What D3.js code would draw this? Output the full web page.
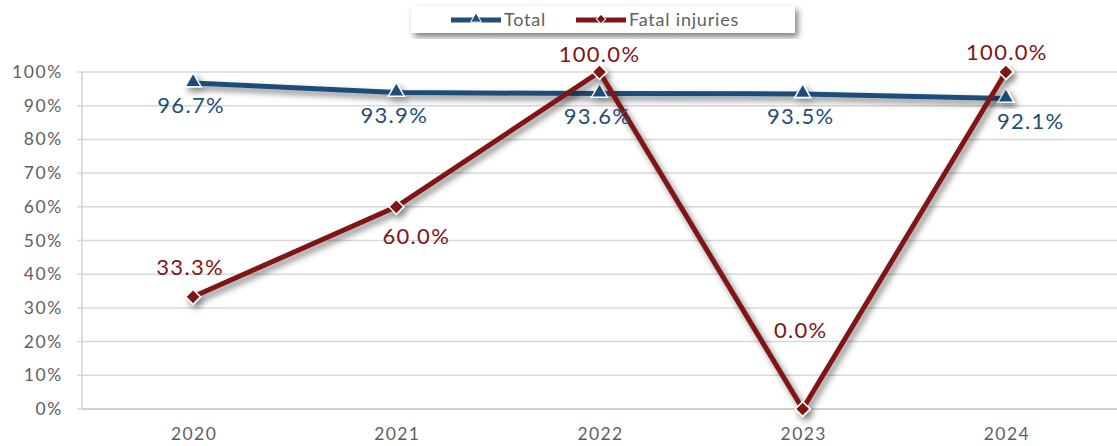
<!DOCTYPE html>
<html>
<head>
<meta charset="utf-8">
<script src="https://cdn.jsdelivr.net/npm/d3@7"></script>
<style>
  body { margin: 0; background: #fff; }
  text { font-family: Lato, "Open Sans", sans-serif; }
</style>
</head>
<body>
<script>
var years = ["2020", "2021", "2022", "2023", "2024"];
var total = [96.7, 93.9, 93.6, 93.5, 92.1];
var fatal = [33.3, 60.0, 100.0, 0.0, 100.0];
var yTicks = [0, 10, 20, 30, 40, 50, 60, 70, 80, 90, 100];

var width = 1117, height = 446;
var blue = "#1f4e79", red = "#7f1416", grey = "#5f5f5f";

var svg = d3.select("body").append("svg")
    .attr("width", width)
    .attr("height", height);

// drop shadow used by lines, markers and legend box
var defs = svg.append("defs");
var f = defs.append("filter").attr("id", "shadow")
    .attr("x", "-20%").attr("y", "-20%").attr("width", "140%").attr("height", "140%");
f.append("feDropShadow").attr("dx", 3).attr("dy", 4).attr("stdDeviation", 3)
    .attr("flood-color", "#000").attr("flood-opacity", 0.5);

var x = d3.scaleBand().domain(years).range([91.5, 1107.5]);
var y = d3.scaleLinear().domain([0, 100]).range([409, 72]);
function cx(d, i) { return x(years[i]) + x.bandwidth() / 2; }

// gridlines
svg.append("g").selectAll("line")
    .data(yTicks)
    .enter().append("line")
    .attr("x1", 77).attr("x2", width)
    .attr("y1", d => y(d)).attr("y2", d => y(d))
    .attr("stroke", "#d9d9d9").attr("stroke-width", 1.5);

svg.append("line")
    .attr("x1", 82).attr("x2", 82).attr("y1", y(100)).attr("y2", y(0))
    .attr("stroke", "#d0d0d0").attr("stroke-width", 1.5);
svg.append("line")
    .attr("x1", 82).attr("x2", width).attr("y1", y(0)).attr("y2", y(0))
    .attr("stroke", "#d0d0d0").attr("stroke-width", 2);

// y tick labels
svg.append("g").selectAll("text")
    .data(yTicks)
    .enter().append("text")
    .attr("x", 63).attr("y", d => y(d) + 6)
    .attr("text-anchor", "end")
    .attr("font-size", 17.5).attr("letter-spacing", 1.6).attr("fill", grey)
    .text(d => d + "%");

// x labels
svg.append("g").selectAll("text")
    .data(years)
    .enter().append("text")
    .attr("x", d => x(d) + x.bandwidth() / 2 + 1).attr("y", 440)
    .attr("text-anchor", "middle")
    .attr("font-size", 17.5).attr("letter-spacing", 1.4).attr("fill", grey)
    .text(d => d);

var line = d3.line().x(cx).y(d => y(d));

var tri = d3.symbol().type(d3.symbolTriangle).size(110);
var dia = d3.symbol().type(d3.symbolSquare).size(110);

// Total series
var gT = svg.append("g").attr("filter", "url(#shadow)");
gT.append("path").datum(total)
    .attr("d", line).attr("fill", "none")
    .attr("stroke", blue).attr("stroke-width", 5);
gT.selectAll(".m").data(total).enter().append("path")
    .attr("d", tri)
    .attr("transform", (d, i) => "translate(" + cx(d, i) + "," + (y(d) - 1) + ")")
    .attr("fill", blue).attr("stroke", "#fff").attr("stroke-width", 1.5);

// Fatal series
var gF = svg.append("g").attr("filter", "url(#shadow)");
gF.append("path").datum(fatal)
    .attr("d", line).attr("fill", "none")
    .attr("stroke", red).attr("stroke-width", 5);
gF.selectAll(".m").data(fatal).enter().append("path")
    .attr("d", dia)
    .attr("transform", (d, i) => "translate(" + cx(d, i) + "," + y(d) + ") rotate(45)")
    .attr("fill", red).attr("stroke", "#fff").attr("stroke-width", 1.5);

// data labels
var fmt = d => d.toFixed(1) + "%";
svg.append("g").selectAll("text")
    .data(total)
    .enter().append("text")
    .attr("x", (d, i) => i === 4 ? cx(d, i) - 9 : cx(d, i) - 2)
    .attr("y", (d, i) => y(d) + 30)
    .attr("text-anchor", (d, i) => i === 4 ? "start" : "middle")
    .attr("font-size", 22).attr("letter-spacing", 1.3).attr("fill", blue)
    .text(fmt);

var fatalLabelOffset = [[-3, -22], [20, 37], [0, -10], [-2, -71], [1, -12]];
svg.append("g").selectAll("text")
    .data(fatal)
    .enter().append("text")
    .attr("x", (d, i) => cx(d, i) + fatalLabelOffset[i][0])
    .attr("y", (d, i) => y(d) + fatalLabelOffset[i][1])
    .attr("text-anchor", "middle")
    .attr("font-size", 22).attr("letter-spacing", 1.3).attr("fill", red)
    .text(fmt);

// legend
var lg = svg.append("g");
lg.append("rect").attr("x", 411).attr("y", 6).attr("width", 384).attr("height", 27)
    .attr("fill", "#fff").attr("filter", "url(#shadow)");
var items = [{name: "Total", c: blue, s: d3.symbol().type(d3.symbolTriangle).size(50), x0: 451, rot: ""},
             {name: "Fatal injuries", c: red, s: d3.symbol().type(d3.symbolSquare).size(45), x0: 576, rot: " rotate(45)"}];
items.forEach(function(it) {
  lg.append("line").attr("x1", it.x0).attr("x2", it.x0 + 50).attr("y1", 20).attr("y2", 20)
      .attr("stroke", it.c).attr("stroke-width", 5);
  lg.append("path").attr("d", it.s)
      .attr("transform", "translate(" + (it.x0 + 25) + ",19)" + it.rot)
      .attr("fill", it.c).attr("stroke", "#fff").attr("stroke-width", 1);
  lg.append("text").attr("x", it.x0 + 53).attr("y", 26)
      .attr("font-size", 18).attr("letter-spacing", 0.8).attr("fill", grey).text(it.name);
});
</script>
</body>
</html>
